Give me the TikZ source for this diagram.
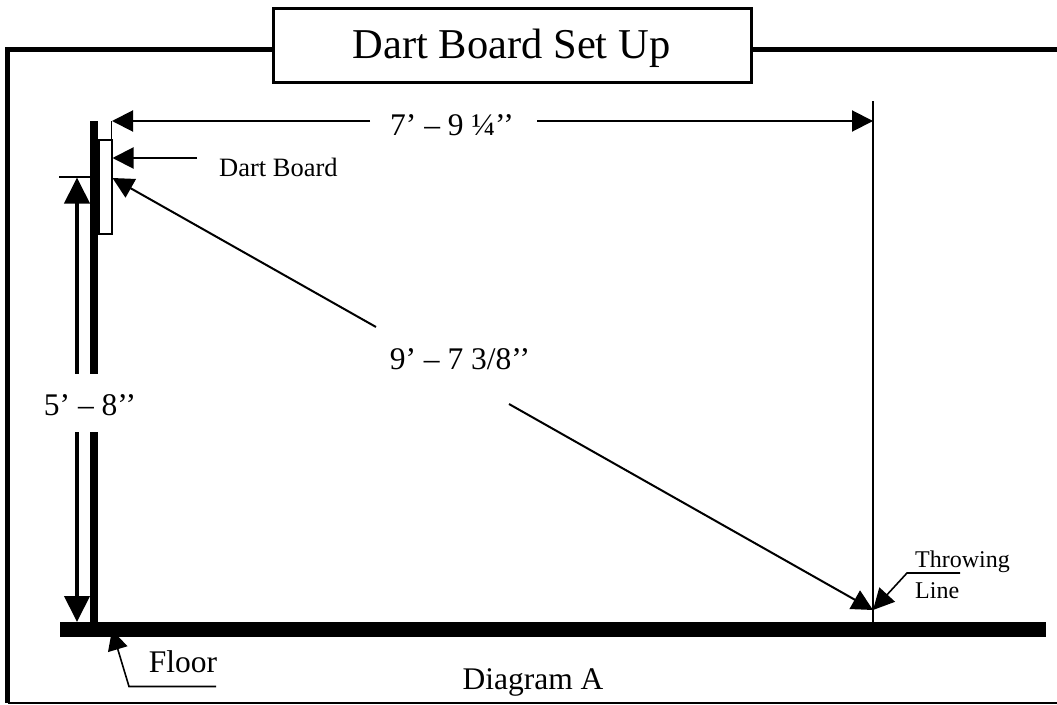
\documentclass[tikz,border=0pt]{standalone}
\usepackage{fontspec}
\setmainfont{Liberation Serif}
\usetikzlibrary{arrows.meta}
\tikzset{
  head/.style={-{Triangle[length=#1,width=#1]}},
  head/.default=21pt,
  dim/.style={draw=black,line width=2pt,line cap=butt},
  thick line/.style={draw=black,line width=5pt},
  txt/.style={inner sep=0pt,text=black,anchor=base,font=\fontsize{31.5}{31.5}\selectfont},
  small/.style={inner sep=0pt,text=black,anchor=base west,font=\fontsize{24}{24}\selectfont},
}
\begin{document}
\begin{tikzpicture}[x=1pt,y=-1pt]
\useasboundingbox (0,0) rectangle (1057,704);
\fill[white] (0,0) rectangle (1057,704);
% frame
\coordinate (fTL) at (7.5,49.5); \coordinate (fBL) at (7.5,702.5);
\coordinate (fTR) at (1057,49.5); \coordinate (fBR) at (1057,702.5);
\draw[thick line,line join=miter] (fBL) -- (fTL) -- (fTR);
\draw[black,line width=2pt] (fBL) -- (fBR);
% title
\node (title) [draw=black,fill=white,line width=3pt,minimum width=478pt,minimum height=74pt,inner sep=0pt] at (512,45.5) {};
\node (titletext) [inner sep=0pt,anchor=base,text=black,font=\fontsize{42.5}{42.5}\selectfont] at (511.5,58) {Dart Board Set Up};
% floor arrow (its tip lies under the floor bar)
\coordinate (f0) at (216,686.5); \coordinate (f1) at (129,686.5); \coordinate (ft) at (112,630);
\draw[black,line width=1.6pt,head=20pt] (f0) -- (f1) -- (ft);
% floor, wall, board
\fill[black] (60,622) rectangle (1046,637);
\fill[black] (90,121) rectangle (98,622);
\node (board) [draw=black,fill=white,line width=2pt,minimum width=13pt,minimum height=94pt,inner sep=0pt] at (105,186.5) {};
\coordinate (tl1) at (873,101); \coordinate (tl2) at (873,622);
\draw[black,line width=1.6pt] (tl1) -- (tl2);
\coordinate (bt) at (111.5,121); \coordinate (bb) at (111.5,140);
\draw[black,line width=1.6pt] (bt) -- (bb);
% 7' 9 1/4
\coordinate (a1) at (370,121); \coordinate (a2) at (537,121); \coordinate (a1t) at (112,121); \coordinate (a2t) at (873,121);
\draw[dim,head] (a1) -- (a1t);
\draw[dim,head] (a2) -- (a2t);
\node (d1) [txt] at (452,135.5) {7’ – 9 ¼’’};
% dart board
\coordinate (db) at (197,158); \coordinate (dbt) at (112.5,158);
\draw[dim,head] (db) -- (dbt);
\node (dbl) [small,font=\fontsize{26.5}{26.5}\selectfont] at (219,176) {Dart Board};
% height
\coordinate (h0) at (59,177); \coordinate (h1) at (90,177);
\draw[black,line width=1.6pt] (h0) -- (h1);
\coordinate (vt) at (77,177.5); \coordinate (vb) at (77,622); \coordinate (vm) at (77,400);
\draw[draw=black,line width=4pt,-{Triangle[length=26pt,width=25pt]}] (vm) -- (vt);
\draw[draw=black,line width=4pt,-{Triangle[length=26pt,width=25pt]}] (vm) -- (vb);
\fill[white] (40,373.5) rectangle (140,432);
\node (h) [txt] at (90,415) {5’ – 8’’};
% diagonal
\coordinate (g1) at (376,327); \coordinate (g2) at (509,404);
\coordinate (gt1) at (112.5,178); \coordinate (gt2) at (873,610);
\draw[dim,head] (g1) -- (gt1);
\draw[dim,head] (g2) -- (gt2);
\node (d2) [txt] at (460,369) {9’ – 7 3/8’’};
% throwing line
\coordinate (t0) at (960,573); \coordinate (t1) at (907,573); \coordinate (tt) at (873,610);
\draw[black,line width=1.6pt,head] (t0) -- (t1) -- (tt);
\node (tw) [small] at (915,567) {Throwing};
\node (tl) [small] at (915,598) {Line};
\node (fl) [txt] at (183,672) {Floor};
\node (da) [txt] at (533,689) {Diagram A};
\end{tikzpicture}
\end{document}
